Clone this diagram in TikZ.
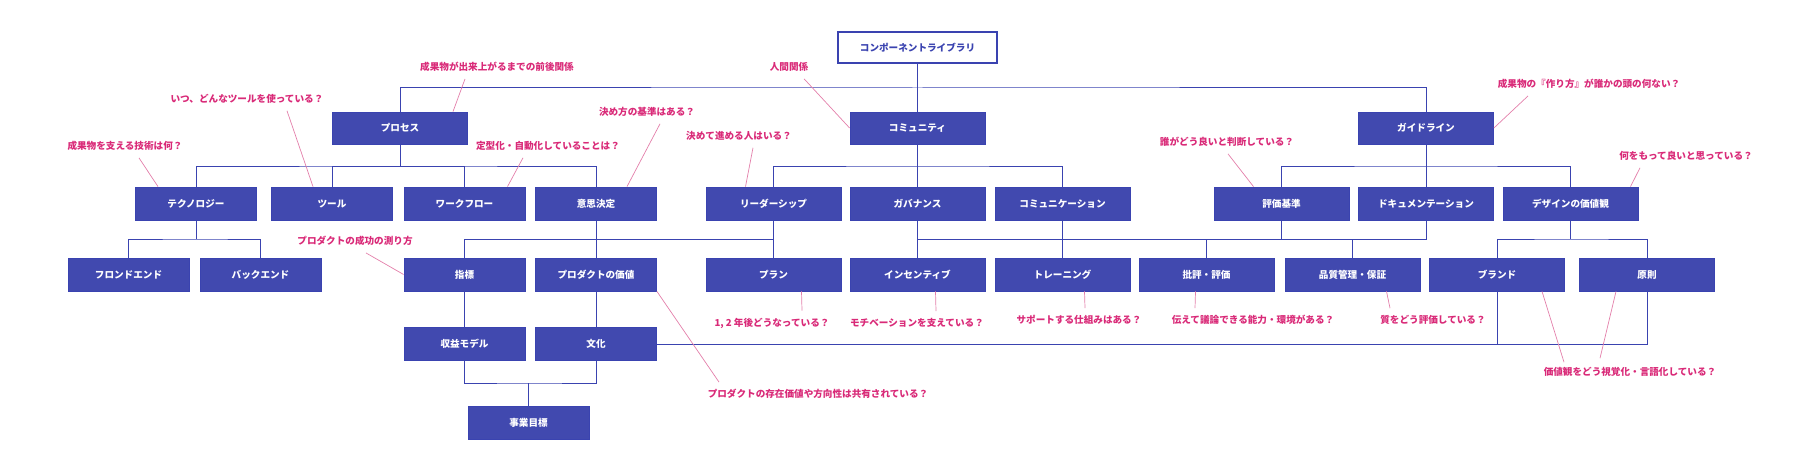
\documentclass[tikz,border=0pt]{standalone}
\usepackage{fontspec}
\setmainfont{Noto Sans CJK JP}
\usetikzlibrary{positioning}

\definecolor{boxblue}{HTML}{4149AF}
\definecolor{linkblue}{HTML}{3A43B0}
\definecolor{qpink}{HTML}{D92A78}
\definecolor{pinline}{HTML}{E37FAA}

\begin{document}
\begin{tikzpicture}[x=1pt,y=-1pt,
    box/.style={draw=linkblue,fill=boxblue,text=white,font=\bfseries\fontsize{9.6}{11}\selectfont,
                minimum width=121pt,minimum height=33pt,inner sep=0pt,line width=0.8pt},
    wide/.style={box,minimum width=135pt},
    root/.style={box,fill=white,text=linkblue,minimum width=159pt,minimum height=31pt,line width=1.6pt},
    q/.style={text=qpink,font=\bfseries\fontsize{9.6}{11}\selectfont,inner sep=1pt},
    link/.style={draw=linkblue,line width=1pt},
    pin/.style={draw=pinline,line width=0.7pt}]

  \useasboundingbox (0,0) rectangle (1820,468);

  % boxes
  \node[root]             (lib)   at (917.5,47.5) {コンポーネントライブラリ};
  \node[wide,minimum height=32pt] (proc)  at (400,128)    {プロセス};
  \node[wide,minimum height=32pt] (comm)  at (917.5,128)  {コミュニティ};
  \node[wide,minimum height=32pt] (guide) at (1426,128)   {ガイドライン};

  \node[box]  (tech)   at (196,203.5)    {テクノロジー};
  \node[box]  (tool)   at (332,203.5)    {ツール};
  \node[box]  (flow)   at (464.5,203.5)  {ワークフロー};
  \node[box]  (dec)    at (596,203.5)    {意思決定};
  \node[wide] (lead)   at (773.5,203.5)  {リーダーシップ};
  \node[wide] (gov)    at (917.5,203.5)  {ガバナンス};
  \node[wide] (talk)   at (1062.5,203.5) {コミュニケーション};
  \node[wide] (eval)   at (1281.5,203.5) {評価基準};
  \node[wide] (doc)    at (1426,203.5)   {ドキュメンテーション};
  \node[wide] (design) at (1570.5,203.5) {デザインの価値観};

  \node[box]  (front)  at (128.5,274.5)  {フロンドエンド};
  \node[box]  (back)   at (260.5,274.5)  {バックエンド};
  \node[box]  (metric) at (464.5,274.5)  {指標};
  \node[box]  (value)  at (596,274.5)    {プロダクトの価値};
  \node[wide] (plan)   at (773.5,274.5)  {プラン};
  \node[wide] (incent) at (917.5,274.5)  {インセンティブ};
  \node[wide] (train)  at (1062.5,274.5) {トレーニング};
  \node[wide] (crit)   at (1206.5,274.5) {批評・評価};
  \node[wide] (qual)   at (1352.5,274.5) {品質管理・保証};
  \node[wide] (brand)  at (1497,274.5)   {ブランド};
  \node[wide] (rule)   at (1647,274.5)   {原則};

  \node[box]  (money)  at (464.5,344)    {収益モデル};
  \node[box]  (culture) at (596,344)     {文化};
  \node[box]  (goal)   at (528.5,423)    {事業目標};

  % bus points
  \coordinate (top)  at (917.5,88);
  \coordinate (bp)   at (400,166);
  \coordinate (bc)   at (917.5,166);
  \coordinate (bg)   at (1426,166);
  \coordinate (bt)   at (196,239);
  \coordinate (bl)   at (773.5,239);
  \coordinate (bv)   at (917.5,239);
  \coordinate (bd)   at (1570.5,239);
  \coordinate (bm)   at (528.5,383);

  \draw[link] (lib) -- (comm);
  \draw[link] (proc.north) |- (top) -| (guide.north);
  \draw[link] (proc) -- (bp);
  \draw[link] (tech.north) |- (bp) -| (dec.north);
  \draw[link] (tool.north) |- (bp);
  \draw[link] (flow.north) |- (bp);
  \draw[link] (lead.north) |- (bc) -| (talk.north);
  \draw[link] (comm) -- (gov);
  \draw[link] (eval.north) |- (bg) -| (design.north);
  \draw[link] (guide) -- (doc);
  \draw[link] (tech) -- (bt);
  \draw[link] (front.north) |- (bt) -| (back.north);
  \draw[link] (dec) -- (value);
  \draw[link] (metric.north) |- (bl);
  \draw[link] (lead) -- (plan);
  \draw[link] (gov) -- (incent);
  \draw[link] (talk) -- (train);
  \draw[link] (bv) -| (doc.south);
  \draw[link] (eval.south) -- (eval.south |- bv);
  \draw[link] (crit.north) |- (bv);
  \draw[link] (qual.north) |- (bv);
  \draw[link] (design) -- (bd);
  \draw[link] (brand.north) |- (bd) -| (rule.north);
  \draw[link] (metric) -- (money);
  \draw[link] (value) -- (culture);
  \draw[link] (money.south) |- (bm) -| (culture.south);
  \draw[link] (bm) -- (goal);
  \draw[link] (culture.east) -| (rule.south);
  \draw[link] (brand.south) -- (brand.south |- culture.east);

  % questions
  \node[q] (qproc)   at (497,67)   {成果物が出来上がるまでの前後関係};
  \node[q] (qtool)   at (247,99)   {いつ、どんなツールを使っている？};
  \node[q] (qtech)   at (125,146)  {成果物を支える技術は何？};
  \node[q] (qflow)   at (548,146)  {定型化・自動化していることは？};
  \node[q] (qdec)    at (647,112)  {決め方の基準はある？};
  \node[q] (qcomm)   at (789,67)   {人間関係};
  \node[q] (qlead)   at (739,136)  {決めて進める人はいる？};
  \node[q] (qeval)   at (1227,142) {誰がどう良いと判断している？};
  \node[q] (qguide)  at (1589,84)  {成果物の『作り方』が誰かの頭の何ない？};
  \node[q] (qdesign) at (1686,156) {何をもって良いと思っている？};
  \node[q] (qmetric) at (355,241)  {プロダクトの成功の測り方};
  \node[q] (qvalue)  at (818,394)  {プロダクトの存在価値や方向性は共有されている？};
  \node[q] (qplan)   at (772,323)  {1, 2 年後どうなっている？};
  \node[q] (qinc)    at (917,323)  {モチベーションを支えている？};
  \node[q] (qtrain)  at (1079,320) {サポートする仕組みはある？};
  \node[q] (qcrit)   at (1253,320) {伝えて議論できる能力・環境がある？};
  \node[q] (qqual)   at (1433,320) {質をどう評価している？};
  \node[q] (qvis)    at (1630,372) {価値観をどう視覚化・言語化している？};

  \draw[pin] ([shift={(-32,6)}]qproc.south)  -- ([xshift=53pt]proc.north);
  \draw[pin] ([shift={(40,6)}]qtool.south)   -- ([xshift=-19pt]tool.north);
  \draw[pin] ([shift={(14,6)}]qtech.south)   -- ([xshift=-38pt]tech.north);
  \draw[pin] ([shift={(-25,6)}]qflow.south)  -- ([xshift=43pt]flow.north);
  \draw[pin] ([shift={(13,6)}]qdec.south)    -- ([xshift=31pt]dec.north);
  \draw[pin] ([shift={(15,6)}]qcomm.south)   -- (comm.west);
  \draw[pin] ([shift={(14,6)}]qlead.south)   -- ([xshift=-28pt]lead.north);
  \draw[pin] ([shift={(1,6)}]qeval.south)    -- ([xshift=-28pt]eval.north);
  \draw[pin] ([shift={(-61,6)}]qguide.south) -- (guide.east);
  \draw[pin] ([shift={(-46,6)}]qdesign.south) -- ([xshift=60pt]design.north);
  \draw[pin] ([shift={(11,6)}]qmetric.south) -- (metric.west);
  \draw[pin] (value.south east)              -- ([shift={(-99,-6)}]qvalue.north);
  \draw[pin] ([xshift=28pt]plan.south)       -- ([shift={(30,-6)}]qplan.north);
  \draw[pin] ([xshift=18pt]incent.south)     -- ([shift={(19,-6)}]qinc.north);
  \draw[pin] ([xshift=22pt]train.south)      -- ([shift={(6,-6)}]qtrain.north);
  \draw[pin] ([xshift=-11pt]crit.south)      -- ([shift={(-58,-6)}]qcrit.north);
  \draw[pin] ([xshift=34pt]qual.south)       -- ([shift={(-43,-6)}]qqual.north);
  \draw[pin] ([xshift=45pt]brand.south)      -- ([shift={(-66,-4)}]qvis.north);
  \draw[pin] ([xshift=-31pt]rule.south)      -- ([shift={(-30,-8)}]qvis.north);
\end{tikzpicture}
\end{document}
